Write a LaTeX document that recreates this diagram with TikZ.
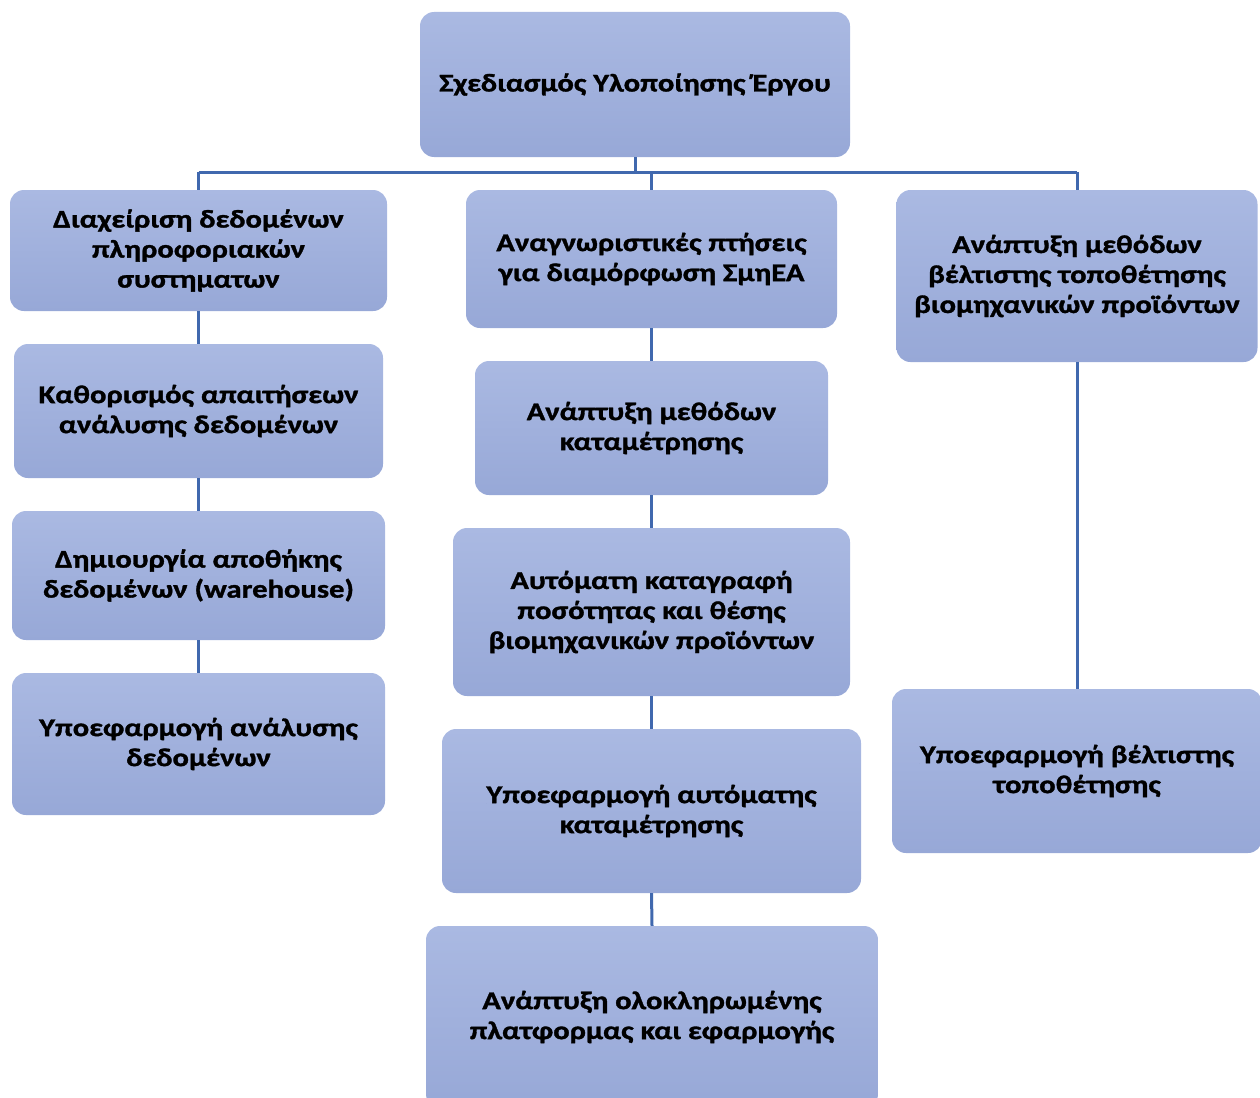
\documentclass[tikz,border=0pt]{standalone}
\usepackage{fontspec}
\setmainfont{Carlito}
\newfontfamily\boxfont{Carlito}[UprightFont={* Bold}, BoldFont={* Bold}, FakeStretch=1.2, FakeBold=1.3]
\definecolor{boxtop}{HTML}{AAB9E2}
\definecolor{boxbot}{HTML}{97A8D7}
\definecolor{linecol}{HTML}{4068AE}
\begin{document}
\begin{tikzpicture}[x=1pt,y=-1pt,
  box/.style={rectangle, rounded corners=14pt, top color=boxtop, bottom color=boxbot,
    draw=none, align=center, font=\boxfont\fontsize{25.5}{30}\selectfont, text=black, inner sep=0pt},
  conn/.style={draw=linecol, line width=3pt}]
\useasboundingbox (0,0) rectangle (1260,1097);
\clip (0,0) rectangle (1260,1097);
% top
\node[box, minimum width=430pt, minimum height=145pt] (T) at (635,84.5) {Σχεδιασμός Υλοποίησης Έργου};
% left column
\node[box, minimum width=377pt, minimum height=121pt] (L1) at (198.5,250.5) {Διαχείριση δεδομένων\\πληροφοριακών\\συστηματων};
\node[box, minimum width=369pt, minimum height=134pt] (L2) at (198.5,411) {Καθορισμός απαιτήσεων\\ανάλυσης δεδομένων};
\node[box, minimum width=373pt, minimum height=129pt] (L3) at (198.5,575.5) {Δημιουργία αποθήκης\\δεδομένων (warehouse)};
\node[box, minimum width=373pt, minimum height=142pt] (L4) at (198.5,744) {Υποεφαρμογή ανάλυσης\\δεδομένων};
% middle column
\node[box, minimum width=371pt, minimum height=138pt] (M1) at (651.5,259) {Αναγνωριστικές πτήσεις\\για διαμόρφωση ΣμηΕΑ};
\node[box, minimum width=353pt, minimum height=134pt] (M2) at (651.5,428) {Ανάπτυξη μεθόδων\\καταμέτρησης};
\node[box, minimum width=397pt, minimum height=168pt] (M3) at (651.5,612) {Αυτόματη καταγραφή\\ποσότητας και θέσης\\βιομηχανικών προϊόντων};
\node[box, minimum width=419pt, minimum height=164pt] (M4) at (651.5,811) {Υποεφαρμογή αυτόματης\\καταμέτρησης};
\node[box, minimum width=452pt, minimum height=182pt] (M5) at (652,1017) {Ανάπτυξη ολοκληρωμένης\\πλατφορμας και εφαρμογής};
% right column
\node[box, minimum width=361pt, minimum height=172pt] (R1) at (1077,276) {Ανάπτυξη μεθόδων\\βέλτιστης τοποθέτησης\\βιομηχανικών προϊόντων};
\node[box, minimum width=370pt, minimum height=164pt] (R2) at (1077,771) {Υποεφαρμογή βέλτιστης\\τοποθέτησης};
% connectors
\coordinate (J) at (T.south |- 0,172);
\coordinate (HL) at (L1.north |- 0,172);
\coordinate (HR) at (R1.north |- 0,172);
\draw[conn] (T.south) -- (J);
\draw[conn] (HL) -- (HR);
\draw[conn] (HL) -- (L1.north);
\draw[conn] (M1.north |- J) -- (M1.north);
\draw[conn] (HR) -- (R1.north);
\draw[conn] (L1.south) -- (L2.north);
\draw[conn] (L2.south) -- (L3.north);
\draw[conn] (L3.south) -- (L4.north);
\draw[conn] (M1.south) -- (M2.north);
\draw[conn] (M2.south) -- (M3.north);
\draw[conn] (M3.south) -- (M4.north);
\draw[conn] (M4.south) -- (M5.north);
\draw[conn] (R1.south) -- (R2.north);
\end{tikzpicture}
\end{document}
